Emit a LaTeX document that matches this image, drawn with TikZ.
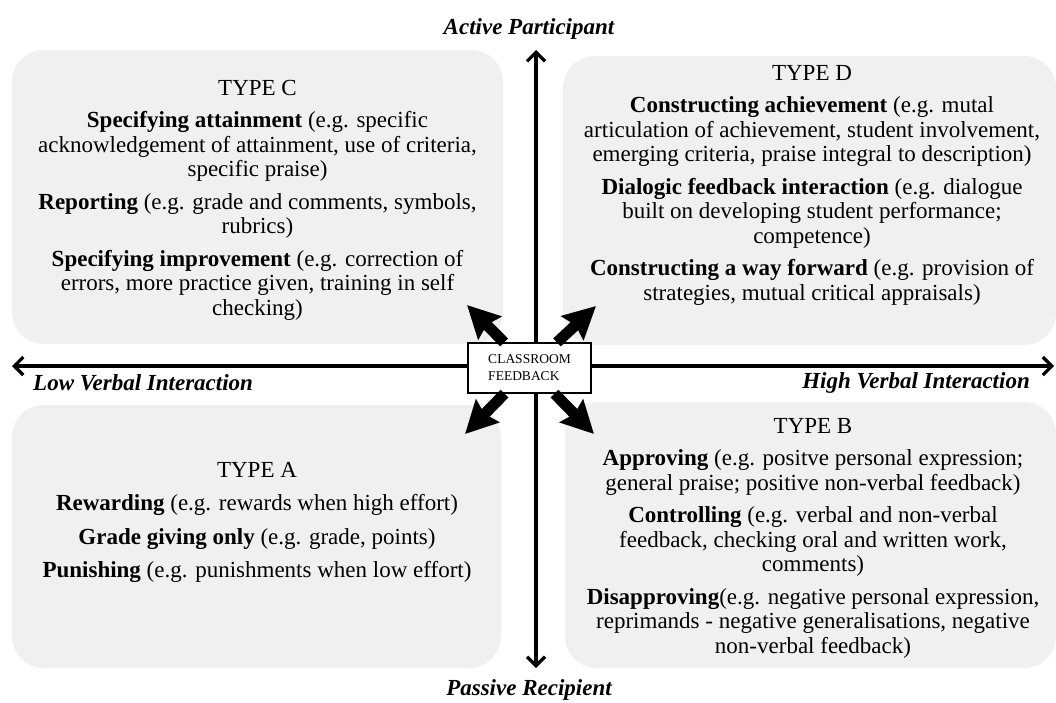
\documentclass[tikz,border=0pt]{standalone}
\usepackage{fontspec}
\setmainfont{Liberation Serif}
\usetikzlibrary{arrows.meta}
\definecolor{boxgray}{RGB}{240,240,240}

\begin{document}
\begin{tikzpicture}
  [x=1pt,y=-1pt,every node/.style={inner sep=0pt},
   quad/.style={fill=boxgray,rounded corners=32pt},
   txt/.style={align=center,anchor=north,font=\fontsize{23}{24.5}\selectfont},
   lab/.style={font=\fontsize{23}{24}\selectfont\bfseries\itshape},
   axis/.style={line width=3.2pt,{Straight Barb[length=9pt,width=18pt]}-{Straight Barb[length=9pt,width=18pt]}},
   burst/.style={line width=11pt,-{Stealth[length=32pt,width=32pt,inset=4pt]}}]
  \useasboundingbox (0,0) rectangle (1056,702);

  % quadrants
  \node[quad,minimum width=491pt,minimum height=294pt] (qc) at (257.5,197) {};
  \node[quad,minimum width=493pt,minimum height=289pt] (qd) at (809.5,200.5) {};
  \node[quad,minimum width=489pt,minimum height=263pt] (qa) at (256.5,536.5) {};
  \node[quad,minimum width=491pt,minimum height=266pt] (qb) at (810.5,535) {};

  \node[txt] (tc) at (257.5,80) {TYPE C\\[8pt]
    \textbf{Specifying attainment} (e.g. specific\\acknowledgement of attainment, use of criteria,\\specific praise)\\[8pt]
    \textbf{Reporting} (e.g. grade and comments, symbols,\\rubrics)\\[8pt]
    \textbf{Specifying improvement} (e.g. correction of\\errors, more practice given, training in self\\checking)};
  \node[txt] (td) at (812,65) {TYPE D\\[8pt]
    \textbf{Constructing achievement} (e.g. mutal\\articulation of achievement, student involvement,\\emerging criteria, praise integral to description)\\[8pt]
    \textbf{Dialogic feedback interaction} (e.g. dialogue\\built on developing student performance;\\competence)\\[8pt]
    \textbf{Constructing a way forward} (e.g. provision of\\strategies, mutual critical appraisals)};
  \node[txt] (tb) at (813,418) {TYPE B\\[8pt]
    \textbf{Approving} (e.g. positve personal expression;\\general praise; positive non-verbal feedback)\\[8pt]
    \textbf{Controlling} (e.g. verbal and non-verbal\\feedback, checking oral and written work,\\comments)\\[8pt]
    \textbf{Disapproving}(e.g. negative personal expression,\\reprimands - negative generalisations, negative\\non-verbal feedback)};
  \node[txt] (ta) at (257,462) {TYPE A\\[9pt]
    \textbf{Rewarding} (e.g. rewards when high effort)\\[9pt]
    \textbf{Grade giving only} (e.g. grade, points)\\[9pt]
    \textbf{Punishing} (e.g. punishments when low effort)};

  % axes
  \coordinate (up) at (536,50);
  \coordinate (down) at (536,668);
  \coordinate (left) at (12,366);
  \coordinate (right) at (1054,366);
  \draw[axis] (down) -- (up);
  \draw[axis] (left) -- (right);

  \node[lab] (act) at (529,29) {Active Participant};
  \node[lab] (pas) at (529,690) {Passive Recipient};
  \node[lab,anchor=west] (low) at (33,383) {Low Verbal Interaction};
  \node[lab,anchor=east] (high) at (1030,383) {High Verbal Interaction};

  % centre
  \node[draw,fill=white,line width=1.2pt,minimum width=123pt,minimum height=50pt,
        align=left,font=\fontsize{13.5}{17}\selectfont] (fb) at (529.5,368) {CLASSROOM\\FEEDBACK};
  \coordinate (nw) at (467,305);
  \coordinate (ne) at (596,306);
  \coordinate (sw) at (465,434);
  \coordinate (se) at (594,434);
  \foreach \t in {nw,ne,sw,se}
    \draw[burst] (fb) -- (\t);
\end{tikzpicture}
\end{document}
